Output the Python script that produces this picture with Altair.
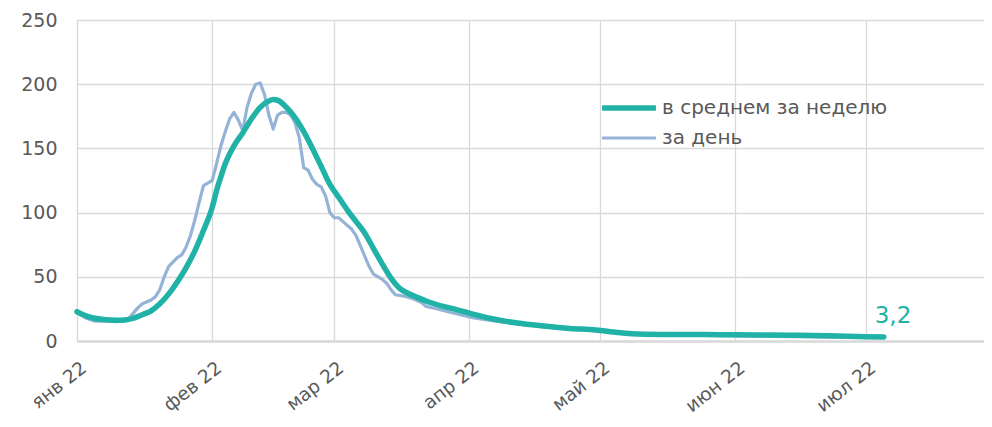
import altair as alt
import pandas as pd

# ---- data ----
month_labels = ["янв 22", "фев 22", "мар 22", "апр 22", "май 22", "июн 22", "июл 22"]
month_starts = ["2022-01-01", "2022-02-01", "2022-03-01", "2022-04-01",
                "2022-05-01", "2022-06-01", "2022-07-01"]
x_start = "2022-01-01"
x_end = "2022-07-28"

daily_dates = [
    "2022-01-01", "2022-01-03", "2022-01-05", "2022-01-08", "2022-01-10", "2022-01-12",
    "2022-01-13", "2022-01-15", "2022-01-16", "2022-01-18", "2022-01-19", "2022-01-20",
    "2022-01-21", "2022-01-22", "2022-01-24", "2022-01-25", "2022-01-26", "2022-01-27",
    "2022-01-28", "2022-01-29", "2022-01-30", "2022-01-31", "2022-02-01", "2022-02-02",
    "2022-02-03", "2022-02-04", "2022-02-05", "2022-02-06", "2022-02-07", "2022-02-08",
    "2022-02-09", "2022-02-10", "2022-02-11", "2022-02-12", "2022-02-13", "2022-02-14",
    "2022-02-15", "2022-02-16", "2022-02-17", "2022-02-18", "2022-02-19", "2022-02-20",
    "2022-02-21", "2022-02-22", "2022-02-23", "2022-02-24", "2022-02-25", "2022-02-26",
    "2022-02-27", "2022-02-28", "2022-03-01", "2022-03-02", "2022-03-03", "2022-03-05",
    "2022-03-06", "2022-03-07", "2022-03-08", "2022-03-09", "2022-03-10", "2022-03-12",
    "2022-03-13", "2022-03-14", "2022-03-15", "2022-03-17", "2022-03-19", "2022-03-21",
    "2022-03-22", "2022-03-24", "2022-03-28", "2022-04-02", "2022-04-07", "2022-04-14",
    "2022-04-21", "2022-04-28", "2022-05-06", "2022-05-12", "2022-05-19", "2022-05-26",
    "2022-06-02", "2022-06-09", "2022-06-16", "2022-06-23", "2022-06-30", "2022-07-05",
]
daily_values = [
    22, 18, 15.5, 15.5, 15, 16.5,
    18, 26, 29, 32, 34.5, 40,
    50, 58, 65, 67, 73, 82,
    94, 108, 121, 123, 125, 138,
    152, 163, 173, 178, 172, 164,
    182, 193, 200, 201, 192, 176,
    165, 176, 178, 178, 176, 170,
    158, 135, 133, 126, 122, 120,
    113, 100, 96, 96, 93, 87,
    82, 74, 66, 58, 52, 48,
    45, 40, 36, 35, 33, 30,
    27, 25.5, 22, 18, 15.5, 12.5,
    10, 8.5, 6.5, 4.7, 4.5, 4.3,
    4.0, 3.6, 3.3, 3.0, 2.8, 2.8,
]

weekly_dates = [
    "2022-01-01", "2022-01-04", "2022-01-07", "2022-01-10", "2022-01-12", "2022-01-14",
    "2022-01-16", "2022-01-18", "2022-01-20", "2022-01-22", "2022-01-24", "2022-01-26",
    "2022-01-28", "2022-01-30", "2022-02-01", "2022-02-02", "2022-02-03", "2022-02-04",
    "2022-02-06", "2022-02-08", "2022-02-10", "2022-02-12", "2022-02-14", "2022-02-15",
    "2022-02-16", "2022-02-18", "2022-02-20", "2022-02-22", "2022-02-24", "2022-02-26",
    "2022-02-28", "2022-03-02", "2022-03-04", "2022-03-06", "2022-03-08", "2022-03-10",
    "2022-03-12", "2022-03-14", "2022-03-16", "2022-03-18", "2022-03-20", "2022-03-23",
    "2022-03-26", "2022-03-29", "2022-04-02", "2022-04-06", "2022-04-12", "2022-04-18",
    "2022-04-24", "2022-04-30", "2022-05-05", "2022-05-11", "2022-05-18", "2022-05-25",
    "2022-06-01", "2022-06-08", "2022-06-15", "2022-06-22", "2022-06-29", "2022-07-05",
]
weekly_values = [
    22.8, 18.5, 16.8, 16.2, 16.4, 17.8,
    20.5, 23.5, 29, 36.5, 46, 57,
    70, 86, 104, 117, 128, 138,
    152, 162, 173, 182, 187, 188,
    187.5, 182, 174, 163, 150, 136,
    122, 112, 102, 93, 84, 72,
    60, 49, 41, 37, 34, 30,
    27, 24.5, 20.8, 17.5, 14, 11.7,
    9.8, 8.6, 6.6, 5.3, 5.1, 5.0,
    4.9, 4.6, 4.4, 4.0, 3.5, 3.2,
]

series_names = ["в среднем за неделю", "за день"]
series_colors = ["#20B2A6", "#95B3D7"]
series_widths = [5.5, 3.2]

# ---- build tables ----
base = pd.Timestamp(x_start)
def day_index(dates):
    return [(pd.Timestamp(d) - base).days for d in dates]

df = pd.concat([
    pd.DataFrame({"day": day_index(weekly_dates), "value": weekly_values, "series": series_names[0]}),
    pd.DataFrame({"day": day_index(daily_dates), "value": daily_values, "series": series_names[1]}),
])
last = pd.DataFrame({
    "day": [day_index(weekly_dates)[-1]],
    "value": [weekly_values[-1]],
    "label": [f"{weekly_values[-1]:.1f}".replace(".", ",")],
})

tick_days = day_index(month_starts)
x_max = day_index([x_end])[0]
label_expr = ("[" + ",".join(f"'{m}'" for m in month_labels) + "][indexof(["
              + ",".join(str(t) for t in tick_days) + "], datum.value)]")

FONT = "DejaVu Sans"
TXT = "#595959"
GRID = "#D9D9D9"

x_enc = alt.X("day:Q", scale=alt.Scale(domain=[0, x_max], nice=False, zero=False),
              axis=alt.Axis(values=tick_days, labelExpr=label_expr, labelAngle=-38,
                            labelAlign="right", labelBaseline="top", labelPadding=17,
                            labelOffset=1,
                            labelFontSize=18.5, labelColor=TXT, labelFont=FONT,
                            ticks=False, grid=True, gridColor=GRID, gridWidth=1.3,
                            domainColor=GRID, domainWidth=2.5, title=None,
                            labelOverlap=False, labelBound=False))
y_enc = alt.Y("value:Q", scale=alt.Scale(domain=[0, 250], nice=False),
              axis=alt.Axis(values=[0, 50, 100, 150, 200, 250], labelFontSize=19,
                            labelColor=TXT, labelFont=FONT, labelPadding=20,
                            ticks=False, domain=False, grid=True, gridColor=GRID,
                            gridWidth=1.3, title=None))
color_enc = alt.Color("series:N",
                      scale=alt.Scale(domain=series_names, range=series_colors),
                      legend=alt.Legend(title=None, orient="none", legendX=522, legendY=76,
                                        symbolType="stroke", symbolSize=2900,
                                        clipHeight=24, rowPadding=6,
                                        labelFontSize=20, labelColor=TXT, labelFont=FONT,
                                        labelOffset=3, labelLimit=400))
sw_enc = alt.StrokeWidth("series:N",
                         scale=alt.Scale(domain=series_names, range=series_widths),
                         legend=None)

base_chart = alt.Chart(df)
daily_line = base_chart.transform_filter(alt.datum.series == series_names[1]).mark_line(
    strokeCap="round", strokeJoin="round").encode(
    x=x_enc, y=y_enc, color=color_enc, strokeWidth=sw_enc)
weekly_line = base_chart.transform_filter(alt.datum.series == series_names[0]).mark_line(
    strokeCap="round", strokeJoin="round", interpolate="monotone").encode(
    x=x_enc, y=y_enc, color=color_enc, strokeWidth=sw_enc)

end_label = alt.Chart(last).mark_text(
    align="left", baseline="alphabetic", dx=-9, dy=-14, fontSize=23, font=FONT,
    color=series_colors[0]).encode(x="day:Q", y="value:Q", text="label:N")

chart = alt.layer(daily_line, weekly_line, end_label).properties(
    width=907, height=321,
    autosize=alt.AutoSizeParams(type="none"),
    padding={"left": 69, "top": 12, "right": 0, "bottom": 78},
).configure_view(strokeWidth=0)

chart.save("out.html", embed_options={"renderer": "svg", "actions": False})
